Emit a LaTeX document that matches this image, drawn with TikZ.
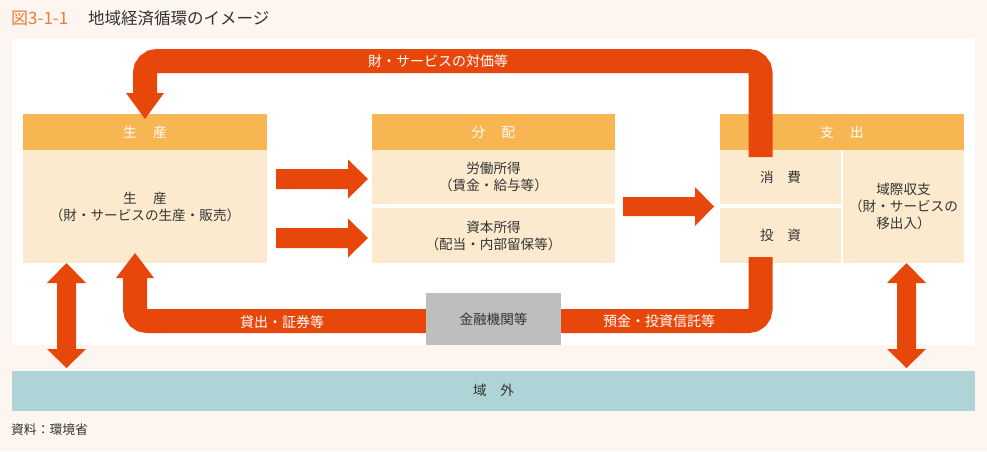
\documentclass[tikz,border=0pt]{standalone}
\usepackage{fontspec}
\setmainfont{Noto Sans CJK JP}
\definecolor{bg}{HTML}{FDF5F0}
\definecolor{arr}{HTML}{E8470B}
\definecolor{hdr}{HTML}{F8B652}
\definecolor{bodyc}{HTML}{FCEACF}
\definecolor{grayb}{HTML}{BEBEBE}
\definecolor{bandc}{HTML}{AED4D7}
\definecolor{ttl}{HTML}{EF7B3C}
\definecolor{txt}{HTML}{333333}
\newcommand\hArrowShape[6]{% x0 x1 tip cy shafthalf headhalf
  \fill[arr] (#1,#4-#5) -- (#2,#4-#5) -- (#2,#4-#6) -- (#3,#4) -- (#2,#4+#6) -- (#2,#4+#5) -- (#1,#4+#5) -- cycle;}
\newcommand\vDoubleArrowShape[7]{% cx toptip topbase botbase bottip shafthalf headhalf
  \fill[arr] (#1,#2) -- (#1+#7,#3) -- (#1+#6,#3) -- (#1+#6,#4) -- (#1+#7,#4) -- (#1,#5) -- (#1-#7,#4) -- (#1-#6,#4) -- (#1-#6,#3) -- (#1-#7,#3) -- cycle;}
\begin{document}
\begin{tikzpicture}[x=1pt,y=-1pt,
  font=\fontsize{13.6}{17}\selectfont,
  box/.style={rectangle, inner sep=0pt, align=center, text=txt, fill=bodyc},
  hdrbox/.style={rectangle, inner sep=0pt, align=center, fill=hdr, text=white, minimum height=36pt},
  band/.style={draw=arr, line width=24pt, rounded corners=12pt},
  bandtext/.style={text=white, inner sep=0pt, font=\fontsize{14}{17}\selectfont}]
% background
\fill[bg] (0,0) rectangle (987,451);
\useasboundingbox (0,0) rectangle (987,451);
\fill[white] (12,39) rectangle (975,345);
% title
\node[anchor=west, inner sep=0pt, text=ttl, font=\fontsize{17}{20}\selectfont] (ttlnum) at (11,18) {図3-1-1};
\node[anchor=west, inner sep=0pt, text=txt, font=\fontsize{16.5}{20}\selectfont] (ttltxt) at (88,18) {地域経済循環のイメージ};
% boxes
\node[hdrbox, minimum width=244pt] (seisanH) at (145,132) {生\hspace{1.2em}産};
\node[box, minimum width=244pt, minimum height=113pt] (seisan) at (145,206.5) {生\hspace{1.2em}産\\（財・サービスの生産・販売）};
\node[hdrbox, minimum width=243pt] (bunpaiH) at (493.5,132) {分\hspace{1.2em}配};
\node[box, minimum width=243pt, minimum height=54pt] (rodo) at (493.5,177) {労働所得\\（賃金・給与等）};
\node[box, minimum width=243pt, minimum height=55pt] (shihon) at (493.5,235.5) {資本所得\\（配当・内部留保等）};
\node[hdrbox, minimum width=244pt] (shishutsuH) at (842,132) {支\hspace{1.2em}出};
\node[box, minimum width=121pt, minimum height=54pt] (shohi) at (780.5,177) {消\hspace{1em}費};
\node[box, minimum width=121pt, minimum height=55pt] (toshi) at (780.5,235.5) {投\hspace{1em}資};
\node[box, minimum width=121pt, minimum height=113pt] (ikisai) at (903.5,206.5) {域際収支\\（財・サービスの\\移出入）};
\node[rectangle, inner sep=0pt, fill=grayb, text=txt, minimum width=135pt, minimum height=52pt] (kinyu) at (493.5,319) {金融機関等};
\node[rectangle, inner sep=0pt, fill=bandc, text=txt, minimum width=963pt, minimum height=40pt] (ikigai) at (493.5,390.5) {域\hspace{1em}外};
\node[anchor=west, inner sep=0pt, text=txt, font=\fontsize{12.8}{15}\selectfont] (source) at (11,430) {資料：環境省};
% horizontal arrows
\hArrowShape{276}{348}{368}{179}{10}{19.5}
\hArrowShape{276}{348}{368}{238}{10}{19.5}
\hArrowShape{623}{695}{714}{206.5}{9.5}{19.5}
% top loop: shishutsu -> seisan
\coordinate (t0) at (760.5,157);
\coordinate (t1) at (760.5,61);
\coordinate (t2) at (145,61);
\coordinate (t3) at (145,94);
\draw[band] (t0) -- (t1) -- (t2) -- (t3);
\fill[arr] (126,93) -- (164,93) -- (145,119) -- cycle;
\node[bandtext] (tlabel) at (438,61) {財・サービスの対価等};
% bottom right: toshi -> kinyu
\coordinate (b0) at (760.5,257);
\coordinate (b1) at (760.5,321);
\draw[band] (b0) -- (b1) -- (kinyu.east |- b1);
\node[bandtext] (brlabel) at (659,321) {預金・投資信託等};
% bottom left: kinyu -> seisan
\coordinate (c1) at (135,321);
\coordinate (c2) at (135,277);
\draw[band] (kinyu.west |- c1) -- (c1) -- (c2);
\fill[arr] (116,278) -- (154,278) -- (135,253) -- cycle;
\node[bandtext] (bllabel) at (282,322) {貸出・証券等};
% double arrows to ikigai
\vDoubleArrowShape{66.5}{263}{283}{349}{368}{9.5}{19.5}
\vDoubleArrowShape{906.5}{263}{283}{349}{368}{9.5}{19.5}
\end{tikzpicture}
\end{document}
